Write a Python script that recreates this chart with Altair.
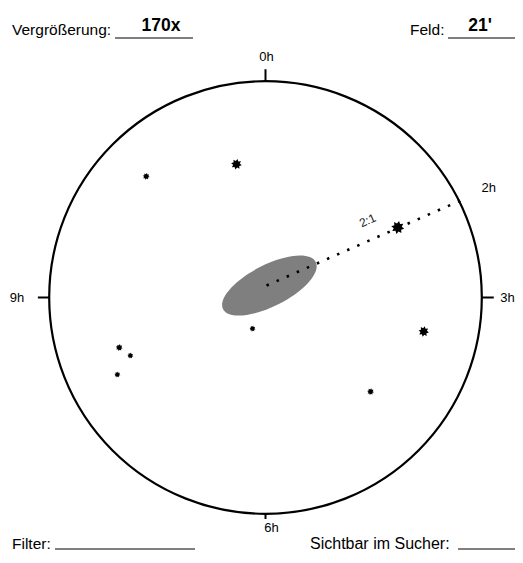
import math
import altair as alt
import pandas as pd

# ---------------- data (arcminutes, field centre = 0,0; 0h up) ----------------
field_diameter = 21.0            # arcmin  ("Feld: 21'")
magnification = "170x"

star_x = [-5.79, -1.41, 6.42, -0.63, 7.68, 5.10, -7.10, -6.56, -7.19]
star_y = [5.88, 6.47, 3.40, -1.51, -1.65, -4.57, -2.43, -2.82, -3.74]
star_mag = [12.0, 10.8, 9.8, 12.2, 10.9, 12.0, 12.0, 12.2, 12.2]

galaxy_x = [0.19]
galaxy_y = [0.58]
galaxy_pa = [333]                # degrees (screen rotation)

pointer_x = [0.05, 9.82]
pointer_y = [0.58, 4.86]
pointer_label = ["2:1"]
pointer_label_x = [4.96]
pointer_label_y = [3.74]
pointer_hour = ["2h"]
pointer_hour_x = [10.84]
pointer_hour_y = [5.30]

hours = ["0h", "3h", "6h", "9h"]
hour_angle = [0, 90, 180, 270]
hour_tick_len = [0.58, 0.58, 0.25, 0.55]
hour_label_r = [11.67, 11.75, 11.2, 12.06]
hour_label_dx = [0.05, 0.0, 0.29, 0.0]

# ---------------- geometry of the drawing ----------------
PX = 20.6                        # pixels per arcminute
W, H = 507, 543
CX, CY = 257.5, 289.5            # field centre in plot pixels
R = field_diameter / 2

xs = alt.Scale(domain=[-CX / PX, (W - CX) / PX], range=[0, W], nice=False, zero=False)
ys = alt.Scale(domain=[-(H - CY) / PX, CY / PX], range=[H, 0], nice=False, zero=False)
X = lambda f: alt.X(f, type="quantitative", scale=xs, axis=None)
Y = lambda f: alt.Y(f, type="quantitative", scale=ys, axis=None)

FONT = "Liberation Sans"


def star_path(n=8, inner=0.62):
    pts = []
    for k in range(2 * n):
        r = 1 if k % 2 == 0 else inner
        a = math.pi * k / n + 0.2
        pts.append(f"{r * math.sin(a):.3f},{-r * math.cos(a):.3f}")
    return "M" + "L".join(pts) + "Z"


stars = pd.DataFrame({"x": star_x, "y": star_y, "mag": star_mag})
galaxy = pd.DataFrame({"x": galaxy_x, "y": galaxy_y, "pa": galaxy_pa})
pointer = pd.DataFrame({"x": pointer_x, "y": pointer_y})
centre = pd.DataFrame({"x": [0.0], "y": [0.0]})

ticks = pd.DataFrame({
    "x": [R * math.sin(math.radians(a)) for a in hour_angle],
    "y": [R * math.cos(math.radians(a)) for a in hour_angle],
    "x2": [(R + l) * math.sin(math.radians(a)) for a, l in zip(hour_angle, hour_tick_len)],
    "y2": [(R + l) * math.cos(math.radians(a)) for a, l in zip(hour_angle, hour_tick_len)],
})
hour_lbl = pd.DataFrame({
    "t": hours,
    "x": [r * math.sin(math.radians(a)) + d for r, a, d in zip(hour_label_r, hour_angle, hour_label_dx)],
    "y": [r * math.cos(math.radians(a)) for r, a in zip(hour_label_r, hour_angle)],
})

# field circle
circle = alt.Chart(centre).mark_point(
    shape="circle", filled=False, color="black", strokeWidth=2.2, opacity=1,
    size=(2 * R * PX) ** 2,
).encode(x=X("x"), y=Y("y"))

tick_rules = alt.Chart(ticks).mark_rule(color="black", strokeWidth=2).encode(
    x=X("x"), y=Y("y"), x2="x2", y2="y2")

hour_text = alt.Chart(hour_lbl).mark_text(
    font=FONT, fontSize=13, color="black", align="center", baseline="middle"
).encode(x=X("x"), y=Y("y"), text="t")

gal = alt.Chart(galaxy).mark_point(
    shape="M-1,0A1,0.4,0,1,1,1,0A1,0.4,0,1,1,-1,0Z",
    filled=True, color="#7f7f7f", opacity=1, size=104 ** 2,
).encode(x=X("x"), y=Y("y"), angle=alt.Angle("pa:Q", scale=None))

ptr = alt.Chart(pointer).mark_line(
    color="black", strokeWidth=2.6, strokeDash=[2.5, 8.5]
).encode(x=X("x"), y=Y("y"), order=alt.Order("x:Q"))

ptr_lbl = alt.Chart(pd.DataFrame({"t": pointer_label, "x": pointer_label_x, "y": pointer_label_y})).mark_text(
    font=FONT, fontSize=12, color="#222222", angle=335, align="center", baseline="middle"
).encode(x=X("x"), y=Y("y"), text="t")

hr_lbl = alt.Chart(pd.DataFrame({"t": pointer_hour, "x": pointer_hour_x, "y": pointer_hour_y})).mark_text(
    font=FONT, fontSize=13, color="black", align="center", baseline="middle"
).encode(x=X("x"), y=Y("y"), text="t")

star_pts = alt.Chart(stars).mark_point(
    shape=star_path(), filled=True, color="black", opacity=1
).encode(
    x=X("x"), y=Y("y"),
    size=alt.Size("mag:Q", scale=alt.Scale(domain=[9.8, 12.2], range=[175, 38]), legend=None),
)

# ---------------- form fields ----------------
form_labels = ["Vergrößerung:", "Feld:", "Filter:", "Sichtbar im Sucher:"]
form_values = [magnification, f"{field_diameter:.0f}'"]


def text_at(t, x, y, size=15.5, weight="normal", align="left"):
    return alt.Chart(centre).mark_text(
        text=t, font=FONT, fontSize=size, fontWeight=weight, color="black",
        align=align, baseline="alphabetic",
    ).encode(x=alt.value(x), y=alt.value(y))


def underline(x1, x2, y):
    return alt.Chart(centre).mark_rule(color="black", strokeWidth=1.2).encode(
        x=alt.value(x1), x2=alt.value(x2), y=alt.value(y))


form = [
    text_at(form_labels[0], 4, 27),
    underline(107, 185, 30),
    text_at(form_values[0], 153, 23, size=17.5, weight="bold", align="center"),
    text_at(form_labels[1], 402, 27),
    underline(440, 507, 30),
    text_at(form_values[1], 472, 23, size=17.5, weight="bold", align="center"),
    text_at(form_labels[2], 4, 541),
    underline(47, 187, 541),
    text_at(form_labels[3], 302, 541, size=16),
    underline(450, 507, 541),
]

chart = alt.layer(
    gal, ptr, circle, tick_rules, hour_text, ptr_lbl, hr_lbl, star_pts, *form
).properties(
    width=W, height=H, padding=0,
    autosize=alt.AutoSizeParams(type="none"),
).configure_view(stroke=None)

chart.save("out.html", embed_options={"renderer": "svg", "actions": False})
